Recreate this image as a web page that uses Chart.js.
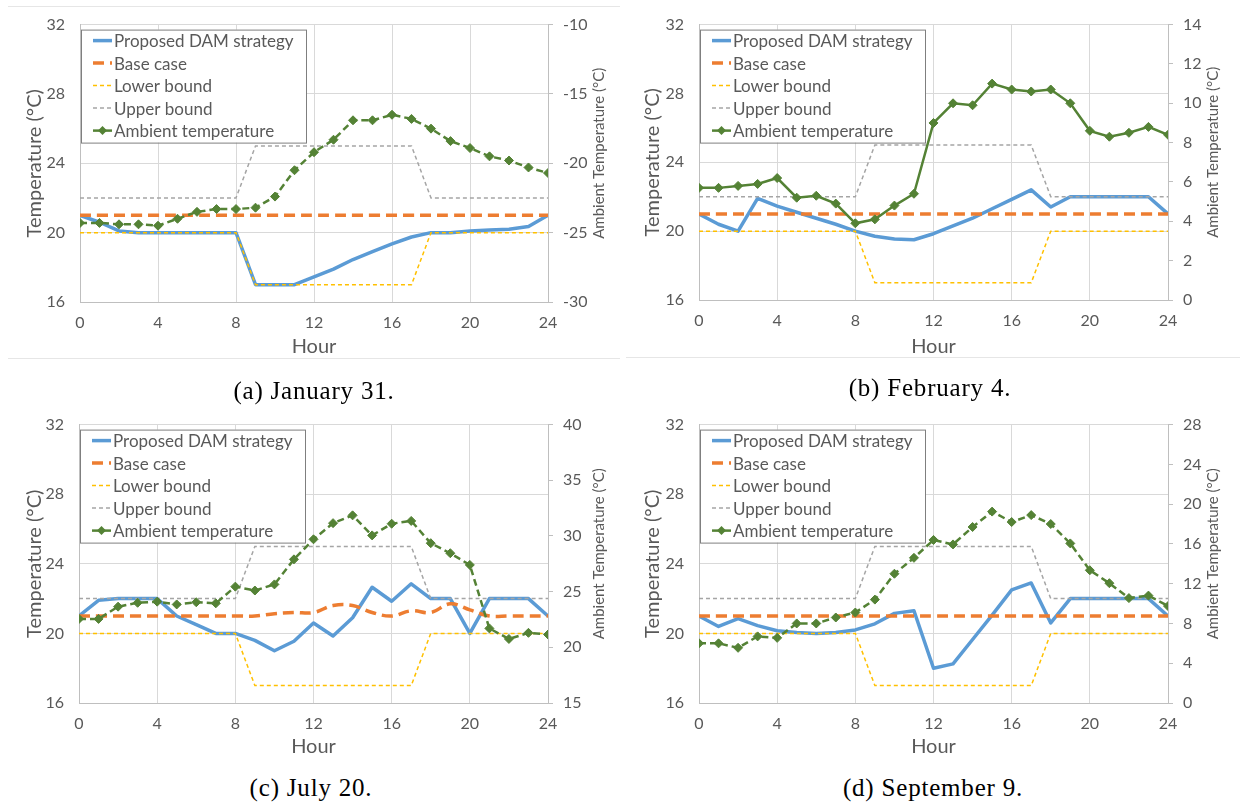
<!DOCTYPE html>
<html>
<head>
<meta charset="utf-8">
<script src="https://cdn.jsdelivr.net/npm/chart.js@4.4.0/dist/chart.umd.min.js"></script>
<style>
  body { margin: 0; background: #fff; }
  #page { position: relative; width: 1243px; height: 803px; overflow: hidden; background: #fff; }
  .panel { position: absolute; }
  .rule { position: absolute; height: 1px; background: #e6e6e6; }
  .caption { position: absolute; width: 400px; text-align: center; font-family: "Liberation Serif", serif; font-size: 25px; letter-spacing: 0.8px; color: #000; line-height: 26px; }
</style>
</head>
<body>
<div id="page">
  <div class="rule" style="left:8px;top:6px;width:612px"></div>
  <div class="rule" style="left:8px;top:358px;width:612px"></div>
  <div class="rule" style="left:626px;top:357px;width:614px"></div>

  <canvas id="chartJan" class="panel" width="620" height="360" style="left:0;top:0"></canvas>
  <canvas id="chartFeb" class="panel" width="623" height="360" style="left:620px;top:0"></canvas>
  <canvas id="chartJul" class="panel" width="620" height="360" style="left:0;top:400px"></canvas>
  <canvas id="chartSep" class="panel" width="623" height="360" style="left:620px;top:400px"></canvas>

  <div class="caption" style="left:114px;top:378px">(a) January 31.</div>
  <div class="caption" style="left:730px;top:375px">(b) February 4.</div>
  <div class="caption" style="left:111px;top:775px">(c) July 20.</div>
  <div class="caption" style="left:733px;top:775px">(d) September 9.</div>
</div>

<script>
// hourly values
const hours = [0, 1, 2, 3, 4, 5, 6, 7, 8, 9, 10, 11, 12, 13, 14, 15, 16, 17, 18, 19, 20, 21, 22, 23, 24];

const lowerBound = [20, 20, 20, 20, 20, 20, 20, 20, 20, 17, 17, 17, 17, 17, 17, 17, 17, 17, 20, 20, 20, 20, 20, 20, 20];
const upperBound = [22, 22, 22, 22, 22, 22, 22, 22, 22, 25, 25, 25, 25, 25, 25, 25, 25, 25, 22, 22, 22, 22, 22, 22, 22];
const flatBase = [21, 21, 21, 21, 21, 21, 21, 21, 21, 21, 21, 21, 21, 21, 21, 21, 21, 21, 21, 21, 21, 21, 21, 21, 21];

// January 31
const janProposed = [21.0, 20.6, 20.1, 20.0, 20.0, 20.0, 20.0, 20.0, 20.0, 17.0, 17.0, 17.0, 17.45, 17.9, 18.45, 18.9, 19.35, 19.75, 20.0, 20.0, 20.1, 20.15, 20.2, 20.35, 21.0];
const janAmbient = [-24.3, -24.3, -24.4, -24.4, -24.5, -24.0, -23.5, -23.3, -23.3, -23.2, -22.4, -20.5, -19.2, -18.3, -16.9, -16.9, -16.5, -16.8, -17.5, -18.4, -18.9, -19.5, -19.8, -20.3, -20.7];

// February 4
const febProposed = [21.0, 20.4, 20.0, 21.9, 21.45, 21.1, 20.75, 20.4, 20.0, 19.7, 19.55, 19.5, 19.85, 20.3, 20.75, 21.3, 21.85, 22.4, 21.4, 22.0, 22.0, 22.0, 22.0, 22.0, 21.0];
const febAmbient = [5.7, 5.7, 5.8, 5.9, 6.2, 5.2, 5.3, 4.9, 3.9, 4.1, 4.8, 5.4, 9.0, 10.0, 9.9, 11.0, 10.7, 10.6, 10.7, 10.0, 8.6, 8.3, 8.5, 8.8, 8.4];

// July 20
const julProposed = [21.0, 21.9, 22.0, 22.0, 22.0, 21.0, 20.5, 20.0, 20.0, 19.6, 19.0, 19.55, 20.6, 19.85, 20.9, 22.65, 21.85, 22.85, 22.0, 22.0, 20.0, 22.0, 22.0, 22.0, 21.0];
const julBase = [21.0, 21.0, 21.0, 21.0, 21.0, 21.0, 21.0, 21.0, 21.0, 21.0, 21.13, 21.2, 21.2, 21.6, 21.6, 21.2, 21.0, 21.3, 21.2, 21.7, 21.35, 21.0, 21.0, 21.0, 21.0];
const julAmbient = [22.55, 22.55, 23.65, 24.0, 24.1, 23.85, 24.05, 23.95, 25.45, 25.1, 25.65, 27.9, 29.7, 31.15, 31.85, 30.05, 31.1, 31.35, 29.35, 28.45, 27.4, 21.7, 20.75, 21.3, 21.15];

// September 9
const sepProposed = [21.0, 20.4, 20.85, 20.45, 20.15, 20.05, 20.0, 20.05, 20.2, 20.55, 21.15, 21.3, 18.0, 18.25, 19.65, 21.05, 22.5, 22.9, 20.6, 22.0, 22.0, 22.0, 22.0, 22.0, 21.0];
const sepAmbient = [6.0, 6.0, 5.55, 6.7, 6.55, 8.0, 8.0, 8.6, 9.1, 10.4, 13.0, 14.6, 16.4, 15.95, 17.7, 19.25, 18.2, 18.9, 18.0, 16.05, 13.35, 12.05, 10.55, 10.8, 9.75];

// ambient axis ranges [min, max, step]
const janAmbientAxis = [-30, -10, 5];
const febAmbientAxis = [0, 14, 2];
const julAmbientAxis = [15, 40, 5];
const sepAmbientAxis = [0, 28, 4];

const seriesNames = ["Proposed DAM strategy", "Base case", "Lower bound", "Upper bound", "Ambient temperature"];

Chart.defaults.font.family = "Lato";
Chart.defaults.color = "#595959";

const TEXT = "#595959";
const GRID = "#d9d9d9";
const AXIS = "#bfbfbf";

function pts(vals) {
  return hours.map((h, i) => ({ x: h, y: vals[i] }));
}

// legend drawn in a box at the top-left of the plot area
const boxLegend = {
  id: "boxLegend",
  afterDatasetsDraw(chart) {
    const ctx = chart.ctx;
    const area = chart.chartArea;
    const bx = area.left + 1, by = area.top + 5, bw = 225, bh = 113;
    ctx.save();
    ctx.fillStyle = "#fff";
    ctx.fillRect(bx, by, bw, bh);
    ctx.strokeStyle = "#7f7f7f";
    ctx.lineWidth = 1;
    ctx.strokeRect(bx + 0.5, by + 0.5, bw, bh);
    chart.data.datasets.forEach((ds, i) => {
      const y = by + 11 + i * 22.5;
      ctx.save();
      ctx.strokeStyle = ds.borderColor;
      ctx.lineWidth = ds.borderWidth;
      ctx.setLineDash(i === 4 ? [] : (ds.borderDash || []));
      ctx.beginPath();
      ctx.moveTo(bx + 12, y);
      ctx.lineTo(bx + 31, y);
      ctx.stroke();
      if (ds.pointRadius) {
        ctx.fillStyle = ds.borderColor;
        ctx.beginPath();
        ctx.moveTo(bx + 21.5, y - 4.5);
        ctx.lineTo(bx + 26, y);
        ctx.lineTo(bx + 21.5, y + 4.5);
        ctx.lineTo(bx + 17, y);
        ctx.closePath();
        ctx.fill();
      }
      ctx.restore();
      ctx.fillStyle = TEXT;
      ctx.font = "17px Lato";
      ctx.textBaseline = "middle";
      ctx.fillText(ds.label, bx + 33, y + 1);
    });
    ctx.restore();
  }
};

// secondary axis title, reading bottom-to-top
const rightTitle = {
  id: "rightTitle",
  afterDraw(chart, args, opts) {
    const ctx = chart.ctx;
    const area = chart.chartArea;
    ctx.save();
    ctx.translate(opts.x, (area.top + area.bottom) / 2 - 10);
    ctx.rotate(-Math.PI / 2);
    ctx.fillStyle = TEXT;
    ctx.font = "15px Lato";
    ctx.textAlign = "center";
    ctx.textBaseline = "middle";
    ctx.fillText(opts.text, 0, 0);
    ctx.restore();
  }
};

function makeChart(id, geo, proposed, base, ambient, ambAxis, ambientSolid) {
  const ctx = document.getElementById(id).getContext("2d");
  return new Chart(ctx, {
    type: "line",
    data: {
      datasets: [
        {
          label: seriesNames[0],
          data: pts(proposed),
          borderColor: "#5b9bd5",
          borderWidth: 3.5,
          borderJoinStyle: "round",
          pointRadius: 0,
          yAxisID: "y",
          order: 4,
        },
        {
          label: seriesNames[1],
          data: pts(base),
          borderColor: "#ed7d31",
          borderWidth: 3.5,
          borderDash: [11, 6],
          tension: 0.4,
          pointRadius: 0,
          yAxisID: "y",
          order: 3,
        },
        {
          label: seriesNames[2],
          data: pts(lowerBound),
          borderColor: "#ffc000",
          borderWidth: 1.5,
          borderDash: [4, 3],
          pointRadius: 0,
          yAxisID: "y",
          order: 2,
        },
        {
          label: seriesNames[3],
          data: pts(upperBound),
          borderColor: "#a5a5a5",
          borderWidth: 1.5,
          borderDash: [4, 3],
          pointRadius: 0,
          yAxisID: "y",
          order: 1,
        },
        {
          label: seriesNames[4],
          data: pts(ambient),
          borderColor: "#548235",
          backgroundColor: "#548235",
          borderWidth: 2.5,
          borderDash: ambientSolid ? [] : [7, 4],
          pointStyle: "rectRot",
          pointRadius: 4.5,
          pointBorderWidth: 1,
          yAxisID: "y2",
          order: 0,
        },
      ],
    },
    options: {
      responsive: false,
      animation: false,
      layout: { padding: { top: geo.top, left: 0, right: 0, bottom: 0 } },
      plugins: {
        legend: { display: false },
        tooltip: { enabled: false },
        rightTitle: { text: "Ambient Temperature (°C)", x: geo.w - geo.rtitle },
      },
      scales: {
        x: {
          type: "linear",
          min: 0,
          max: 24,
          ticks: { stepSize: 4, padding: 11, color: TEXT, font: { size: 16 } },
          grid: { color: GRID, drawTicks: false },
          border: { color: AXIS },
          title: { display: true, text: "Hour", color: TEXT, font: { size: 20 }, padding: { top: 0, bottom: 1 } },
          afterFit(s) { s.height = geo.h - geo.bottom; },
        },
        y: {
          position: "left",
          min: 16,
          max: 32,
          ticks: { stepSize: 4, padding: 15, color: TEXT, font: { size: 16 } },
          grid: { color: GRID, drawTicks: false },
          border: { color: AXIS },
          title: { display: true, text: "Temperature (°C)", color: TEXT, font: { size: 20 }, padding: { top: geo.ltitle - 12, bottom: 0 } },
          afterFit(s) { s.width = geo.left; },
        },
        y2: {
          position: "right",
          min: ambAxis[0],
          max: ambAxis[1],
          ticks: { stepSize: ambAxis[2], padding: 10, color: TEXT, font: { size: 16 } },
          grid: { drawOnChartArea: false, color: AXIS, tickLength: 5 },
          border: { color: AXIS },
          afterFit(s) { s.width = geo.w - geo.right; },
        },
      },
    },
    plugins: [boxLegend, rightTitle],
  });
}

// plot-area placement inside each canvas
const geoJan = { w: 620, h: 360, left: 80, right: 548, top: 20, bottom: 302, ltitle: 35, rtitle: 21 };
const geoFeb = { w: 623, h: 360, left: 79, right: 548, top: 18, bottom: 300, ltitle: 33, rtitle: 30 };
const geoJul = { w: 620, h: 360, left: 79, right: 548, top: 20, bottom: 303, ltitle: 35, rtitle: 21 };
const geoSep = { w: 623, h: 360, left: 79, right: 548, top: 20, bottom: 303, ltitle: 33, rtitle: 30 };

makeChart("chartJan", geoJan, janProposed, flatBase, janAmbient, janAmbientAxis, false);
makeChart("chartFeb", geoFeb, febProposed, flatBase, febAmbient, febAmbientAxis, true);
makeChart("chartJul", geoJul, julProposed, julBase, julAmbient, julAmbientAxis, false);
makeChart("chartSep", geoSep, sepProposed, flatBase, sepAmbient, sepAmbientAxis, false);
</script>
</body>
</html>
